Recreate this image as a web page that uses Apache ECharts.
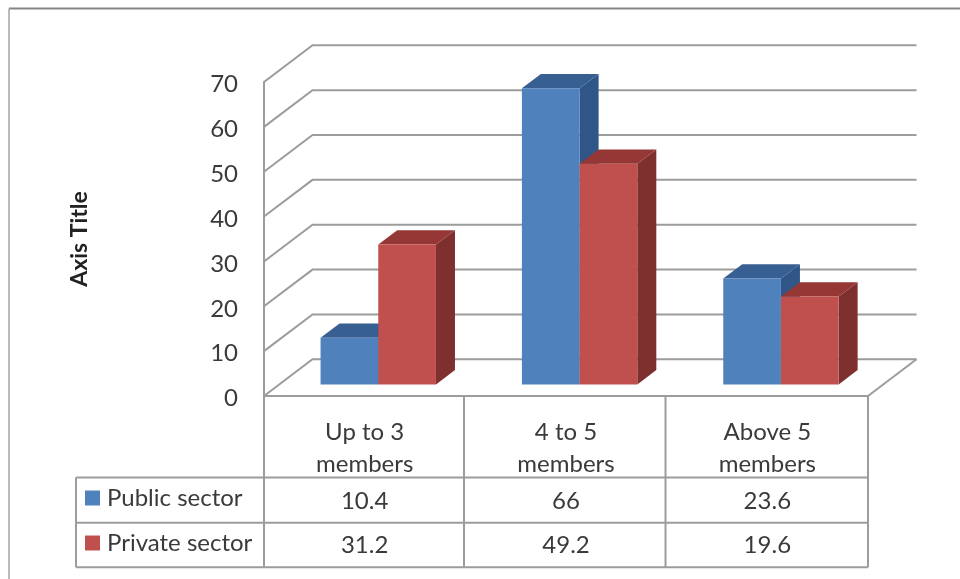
<!DOCTYPE html>
<html>
<head>
<meta charset="utf-8">
<style>html,body{margin:0;padding:0;background:#fff}#chart{width:960px;height:579px}</style>
<script src="https://cdn.jsdelivr.net/npm/echarts@6/dist/echarts.min.js"></script>
</head>
<body>
<div id="chart"></div>
<script>
// Household size by sector: pseudo-3D clustered columns over a data table.
const categories = ['Up to 3\nmembers', '4 to 5\nmembers', 'Above 5\nmembers'];
const publicSector = [10.4, 66, 23.6];
const privateSector = [31.2, 49.2, 19.6];
const valueTicks = [0, 10, 20, 30, 40, 50, 60, 70];

const FONT = 'Lato';
const TEXT = '#3a3a3a';
const RULE = '#9c9c9c';
const WALL_DX = 48.5, WALL_DY = -36.7;   // depth of the plot box
const BAR_DX = 13.6, BAR_DY = -11.6;     // where the column fronts stand inside the box
const DEPTH_DX = 19, DEPTH_DY = -14.3;   // depth of one column
const BAR_SHARE = 0.2866;                // column width relative to a category

function wallItem(params, api) {
  const p = api.coord([0, api.value(0)]);
  const left = p[0] - api.size([1, 0])[0] / 2;
  const children = [{
    type: 'polyline',
    shape: { points: [[left, p[1]], [left + WALL_DX, p[1] + WALL_DY], [left + WALL_DX + api.size([1, 0])[0] * 3, p[1] + WALL_DY]] },
    style: { stroke: RULE, lineWidth: 2, fill: null }
  }];
  if (api.value(0) === 0) {
    const right = left + api.size([1, 0])[0] * 3;
    children.push({
      type: 'line',
      shape: { x1: right, y1: p[1], x2: right + WALL_DX, y2: p[1] + WALL_DY },
      style: { stroke: RULE, lineWidth: 2 }
    });
  }
  return { type: 'group', children };
}

function columnItem(colors, slot, rowY) {
  return function (params, api) {
    const i = api.value(0), v = api.value(1);
    const base = api.coord([i, 0]);
    const top = api.coord([i, v]);
    const w = api.size([1, 0])[0] * BAR_SHARE;
    const x0 = base[0] + BAR_DX + (slot - 1) * w;
    const x1 = x0 + w;
    const yb = base[1] + BAR_DY;
    const yt = top[1] + BAR_DY;
    return {
      type: 'group',
      children: [
        { type: 'polygon', shape: { points: [[x1, yb], [x1 + DEPTH_DX, yb + DEPTH_DY], [x1 + DEPTH_DX, yt + DEPTH_DY], [x1, yt]] }, style: { fill: colors.side } },
        { type: 'polygon', shape: { points: [[x0, yt], [x0 + DEPTH_DX, yt + DEPTH_DY], [x1 + DEPTH_DX, yt + DEPTH_DY], [x1, yt]] }, style: { fill: colors.top } },
        { type: 'rect', shape: { x: x0, y: yt, width: w, height: yb - yt }, style: { fill: colors.front } },
        // value cell in the table row under this category
        { type: 'text', style: { text: String(v), x: base[0], y: rowY, fill: TEXT, font: '24px ' + FONT, align: 'center', verticalAlign: 'middle' } }
      ]
    };
  };
}

const BLUE = { front: '#4f81bd', side: '#2f5687', top: '#385f91' };
const RED = { front: '#c0504d', side: '#7d302e', top: '#953735' };

// Table rules and the chart frame
const tableX = [76, 264, 464, 665.5, 868];
const tableY = [396, 477.5, 522.7, 567.3];
function rule(x1, y1, x2, y2, stroke, lineWidth) {
  return { type: 'line', silent: true, shape: { x1, y1, x2, y2 }, style: { stroke: stroke || RULE, lineWidth: lineWidth || 2 } };
}
const frame = [
  rule(9, 8.5, 960, 8.5, '#858585', 2),
  rule(9, 8.5, 9, 579, '#a3a3a3', 1.5),
  rule(tableX[0], tableY[1], 868, tableY[1]),
  rule(tableX[0], tableY[2], 868, tableY[2]),
  rule(tableX[0], tableY[3], 868, tableY[3]),
  rule(tableX[0], tableY[1], tableX[0], tableY[3]),
  rule(tableX[1], tableY[0], tableX[1], tableY[3]),
  rule(tableX[2], tableY[0], tableX[2], tableY[3]),
  rule(tableX[3], tableY[0], tableX[3], tableY[3]),
  rule(tableX[4], tableY[0], tableX[4], tableY[3])
];

const chart = echarts.init(document.getElementById('chart'), null, { renderer: 'canvas' });
chart.setOption({
  animation: false,
  backgroundColor: '#fff',
  grid: { left: 264, right: 92, top: 82, bottom: 183 },
  legend: {
    data: ['Public sector', 'Private sector'],
    orient: 'vertical',
    left: 80,
    top: 481,
    icon: 'rect',
    itemWidth: 15,
    itemHeight: 15,
    itemGap: 21,
    selectedMode: false,
    textStyle: { fontFamily: FONT, fontSize: 24, color: TEXT, padding: [0, 0, 0, 2] }
  },
  xAxis: {
    type: 'category',
    data: categories,
    axisTick: { show: false },
    axisLine: { show: true, lineStyle: { color: RULE, width: 2 } },
    axisLabel: { fontFamily: FONT, fontSize: 24, color: TEXT, lineHeight: 32, margin: 20 }
  },
  yAxis: {
    type: 'value',
    min: 0,
    max: 70,
    interval: 10,
    splitLine: { show: false },
    axisTick: { show: false },
    axisLine: { show: true, lineStyle: { color: RULE, width: 2 } },
    axisLabel: {
      margin: 26,
      formatter: '{tick|{value}}',
      rich: { tick: { fontFamily: FONT, fontSize: 24, color: TEXT, padding: [5, 0, 0, 0] } }
    },
    name: 'Axis Title',
    nameLocation: 'middle',
    nameRotate: 90,
    nameGap: 173,
    nameTextStyle: { fontFamily: FONT, fontSize: 23, fontWeight: 'bold', color: '#222' }
  },
  graphic: frame,
  series: [
    { type: 'custom', name: 'Walls', z: 1, silent: true, clip: false, renderItem: wallItem,
      data: valueTicks.map(t => [t]), encode: { y: 0 } },
    { type: 'custom', name: 'Public sector', z: 2, silent: true, clip: false,
      itemStyle: { color: BLUE.front }, renderItem: columnItem(BLUE, 0, 501),
      data: publicSector.map((v, i) => [i, v]), encode: { x: 0, y: 1 } },
    { type: 'custom', name: 'Private sector', z: 3, silent: true, clip: false,
      itemStyle: { color: RED.front }, renderItem: columnItem(RED, 1, 545),
      data: privateSector.map((v, i) => [i, v]), encode: { x: 0, y: 1 } }
  ]
});
</script>
</body>
</html>
